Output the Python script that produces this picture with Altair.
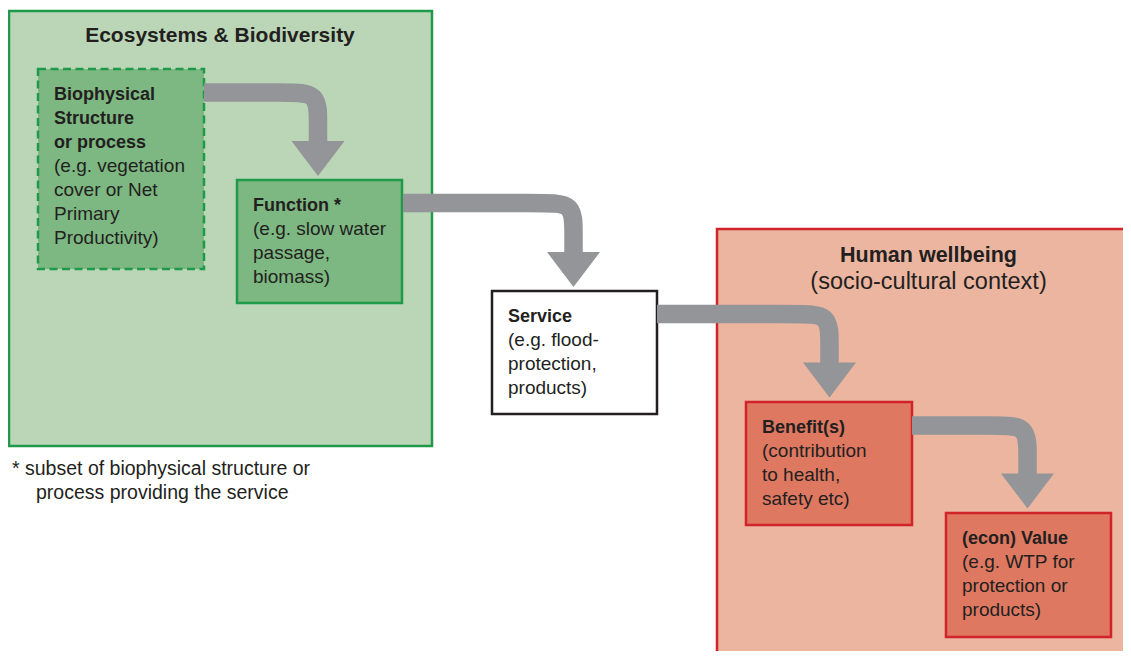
import altair as alt
import pandas as pd

# ---------------- diagram content ----------------
# boxes (drawing order: outer contexts first)
box_id = ["eco", "well", "bio", "func", "serv", "ben", "val"]
box_x0 = [9, 717, 38, 237, 492, 746, 946]
box_x1 = [432, 1150, 204, 402, 657, 912, 1111]
box_y0 = [11, 229, 69, 180, 291, 402, 513]
box_y1 = [446, 680, 269, 303, 414, 525, 637]
box_dashed = [False, False, True, False, False, False, False]

# text inside the small boxes (first n lines bold)
inner_boxes = ["bio", "func", "serv", "ben", "val"]
inner_lines = [
    ["Biophysical", "Structure", "or process", "(e.g. vegetation", "cover or Net", "Primary", "Productivity)"],
    ["Function *", "(e.g. slow water", "passage,", "biomass)"],
    ["Service", "(e.g. flood-", "protection,", "products)"],
    ["Benefit(s)", "(contribution", "to health,", "safety etc)"],
    ["(econ) Value", "(e.g. WTP for", "protection or", "products)"],
]
inner_bold = [3, 1, 1, 1, 1]

# headings of the two context boxes
head_text = ["Ecosystems & Biodiversity", "Human wellbeing", "(socio-cultural context)"]
head_x = [220, 928.5, 928.5]
head_y = [42, 262, 289]
head_bold = [True, True, False]
head_size = [21, 21.5, 23.5]

# footnote
foot_text = ["* subset of biophysical structure or", "process providing the service"]
foot_x = [12, 36]
foot_y = [475, 499]

# arrows: start of horizontal run, row, column, top of head, tip
arrow_x_start = [204, 403, 657, 912]
arrow_y_row = [92.5, 203, 314, 425.5]
arrow_x_col = [318, 573.5, 829.5, 1027.5]
arrow_y_head = [141, 252, 363, 474]
arrow_y_tip = [176, 287, 397, 508]

# ---------------- styles ----------------
fill_range = ["#bad6b7", "#ebb5a0", "#7db782", "#7db782", "#ffffff", "#de7860", "#de7860"]
stroke_range = ["#1f9a4a", "#d2232a", "#1f9a4a", "#1f9a4a", "#231f20", "#d2232a", "#d2232a"]
TEXT = "#231f20"
GREY = "#939598"
FONT = "Liberation Sans"
R = 30  # corner rounding of arrow centre line

# ---------------- tables ----------------
boxes = pd.DataFrame({"id": box_id, "x0": box_x0, "x1": box_x1,
                      "y0": box_y0, "y1": box_y1, "dashed": box_dashed})

rows = []
for b, lines, nb in zip(inner_boxes, inner_lines, inner_bold):
    i = box_id.index(b)
    for k, t in enumerate(lines):
        rows.append({"t": t, "x": box_x0[i] + 16, "y": box_y0[i] + 31 + 24 * k, "bold": k < nb})
inner = pd.DataFrame(rows)

heads = pd.DataFrame({"t": head_text, "x": head_x, "y": head_y, "bold": head_bold, "s": head_size})
foot = pd.DataFrame({"t": foot_text, "x": foot_x, "y": foot_y})

lrows = []
for a, (xs0, yr, xc, yh) in enumerate(zip(arrow_x_start, arrow_y_row, arrow_x_col, arrow_y_head)):
    pts = [(xs0, yr), (xc - R, yr), (xc, yr), (xc, yr + R), (xc, yh + 2)]
    for k, (px, py) in enumerate(pts):
        lrows.append({"a": a, "k": k, "x": px, "y": py})
alines = pd.DataFrame(lrows)
aheads = pd.DataFrame({"x": arrow_x_col,
                       "y": [(h + t) / 2 for h, t in zip(arrow_y_head, arrow_y_tip)]})

# ---------------- chart ----------------
xs = alt.Scale(domain=[8, 1123], nice=False, zero=False)
ys = alt.Scale(domain=[8, 651], nice=False, zero=False, reverse=True)

def X(f):
    return alt.X(f, type="quantitative", scale=xs, axis=None)

def Y(f):
    return alt.Y(f, type="quantitative", scale=ys, axis=None)

fill_enc = alt.Fill("id:N", scale=alt.Scale(domain=box_id, range=fill_range), legend=None)
stroke_enc = alt.Stroke("id:N", scale=alt.Scale(domain=box_id, range=stroke_range), legend=None)

solid = alt.Chart(boxes).transform_filter("!datum.dashed").mark_rect(
    strokeWidth=2.5, clip=True, opacity=1
).encode(x=X("x0"), x2="x1", y=Y("y0"), y2="y1", fill=fill_enc, stroke=stroke_enc)

dashed = alt.Chart(boxes).transform_filter("datum.dashed").mark_rect(
    strokeWidth=2.5, strokeDash=[8, 4.5], opacity=1
).encode(x=X("x0"), x2="x1", y=Y("y0"), y2="y1", fill=fill_enc, stroke=stroke_enc)

inner_bold_t = alt.Chart(inner).transform_filter("datum.bold").mark_text(
    align="left", baseline="alphabetic", font=FONT, fontSize=18, fontWeight="bold", color=TEXT
).encode(x=X("x"), y=Y("y"), text="t:N")

inner_norm_t = alt.Chart(inner).transform_filter("!datum.bold").mark_text(
    align="left", baseline="alphabetic", font=FONT, fontSize=19, fontWeight="normal", color=TEXT
).encode(x=X("x"), y=Y("y"), text="t:N")

head_bold_t = alt.Chart(heads).transform_filter("datum.bold").mark_text(
    align="center", baseline="alphabetic", font=FONT, fontWeight="bold", color=TEXT
).encode(x=X("x"), y=Y("y"), text="t:N", size=alt.Size("s:Q", scale=None))

head_norm_t = alt.Chart(heads).transform_filter("!datum.bold").mark_text(
    align="center", baseline="alphabetic", font=FONT, fontWeight="normal", color=TEXT
).encode(x=X("x"), y=Y("y"), text="t:N", size=alt.Size("s:Q", scale=None))

foot_t = alt.Chart(foot).mark_text(
    align="left", baseline="alphabetic", font=FONT, fontSize=19.5, color=TEXT
).encode(x=X("x"), y=Y("y"), text="t:N")

shafts = alt.Chart(alines).mark_line(
    interpolate="basis", strokeWidth=18.5, strokeCap="butt", color=GREY
).encode(x=X("x"), y=Y("y"), detail="a:N", order="k:Q")

tips = alt.Chart(aheads).mark_point(
    shape="M-1,-0.66L1,-0.66L0,0.66Z", size=2809, filled=True, opacity=1,
    fill=GREY, strokeWidth=0
).encode(x=X("x"), y=Y("y"))

chart = alt.layer(
    solid, dashed, inner_bold_t, inner_norm_t, head_bold_t, head_norm_t, foot_t, shafts, tips
).properties(width=1115, height=643, padding=0).configure_view(strokeWidth=0)

chart.save("out.html", embed_options={"renderer": "svg", "actions": False})
